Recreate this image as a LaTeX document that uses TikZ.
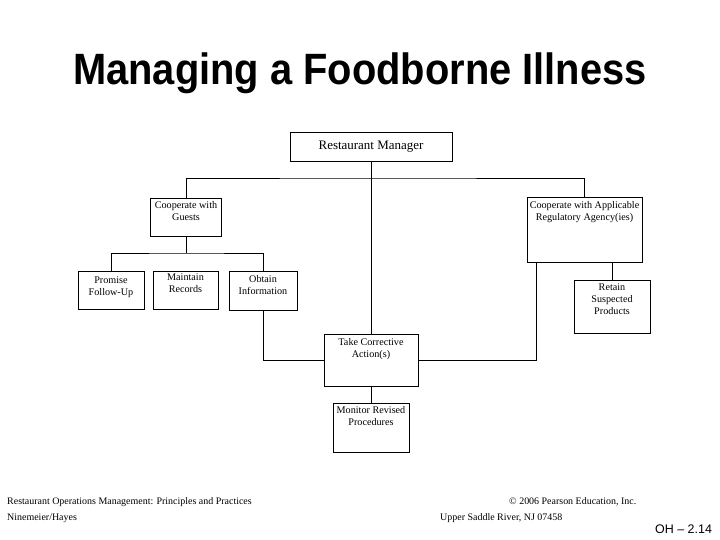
\documentclass[tikz,border=0pt]{standalone}
\usepackage{fontspec}
\setmainfont{Liberation Serif}
\newfontfamily\titlefont{Liberation Sans}
\usetikzlibrary{calc}
\begin{document}
\begin{tikzpicture}[x=1bp,y=-1bp,
  box/.style={draw=black, line width=0.8bp, rectangle, inner sep=0pt},
  boxtext/.style={anchor=north, align=center, inner sep=0pt, font=\fontsize{10.2}{12}\selectfont},
  conn/.style={draw=black, line width=0.8bp},
  foot/.style={anchor=base west, inner sep=0pt, font=\fontsize{10}{11}\selectfont}]
\useasboundingbox[fill=white] (0,0) rectangle (720,540);
% title
\node[anchor=base, inner sep=0pt, font=\titlefont\bfseries\fontsize{40}{44}\selectfont, yscale=1.1, transform shape] (title) at (360,85) {Managing a Foodborne Illness};
% boxes
\node[box, minimum width=162bp, minimum height=29bp] (m) at (371,146.5) {};
\node[inner sep=0pt, font=\fontsize{13}{15}\selectfont] (mT) at (m.center) {Restaurant Manager};
\node[box, minimum width=71bp, minimum height=38bp] (g) at (186,217) {};
\node[boxtext] (gT) at ($(g.north)+(0,4)$) {Cooperate with\\Guests};
\node[box, minimum width=115bp, minimum height=65bp] (a) at (584.5,229.5) {};
\node[boxtext] (aT) at ($(a.north)+(0,5)$) {Cooperate with Applicable\\Regulatory Agency(ies)};
\node[box, minimum width=66bp, minimum height=38bp] (pf) at (111,290) {};
\node[boxtext] (pfT) at ($(pf.north)+(0,6)$) {Promise\\Follow-Up};
\node[box, minimum width=65bp, minimum height=38bp] (mr) at (185.5,290) {};
\node[boxtext] (mrT) at ($(mr.north)+(0,3)$) {Maintain\\Records};
\node[box, minimum width=68bp, minimum height=39bp] (ob) at (263,290.5) {};
\node[boxtext] (obT) at ($(ob.north)+(0,5)$) {Obtain\\Information};
\node[box, minimum width=76bp, minimum height=53bp] (ret) at (612,306.5) {};
\node[boxtext] (retT) at ($(ret.north)+(0,4)$) {Retain\\Suspected\\Products};
\node[box, minimum width=94bp, minimum height=52bp] (take) at (371,360) {};
\node[boxtext] (takeT) at ($(take.north)+(0,5)$) {Take Corrective\\Action(s)};
\node[box, minimum width=76bp, minimum height=49bp] (mon) at (371,427.5) {};
\node[boxtext] (monT) at ($(mon.north)+(0,4)$) {Monitor Revised\\Procedures};
% connector helper coordinates
\coordinate (h1) at (371,178);
\coordinate (h2) at (186,253);
\coordinate (ar) at (536,262);
% connectors
\draw[conn] (m.south) -- (take.north);
\draw[conn] (g.north) |- (h1) -| (a.north);
\draw[conn] (g.south) -- (h2);
\draw[conn] (pf.north) |- (h2) -| (ob.north);
\draw[conn] (ob.south) |- (take.west);
\draw[conn] (take.east) -| (ar);
\draw[conn] (ret.north) -- (ret.north |- a.south);
\draw[conn] (take.south) -- (mon.north);
% footer
\node[foot] (f1) at (7,504) {Restaurant Operations Management: Principles and Practices};
\node[foot] (f2) at (7,520) {Ninemeier/Hayes};
\node[foot] (f3) at (509,504) {\symbol{"00A9} 2006 Pearson Education, Inc.};
\node[foot] (f4) at (440,520) {Upper Saddle River, NJ 07458};
\node[anchor=base west, inner sep=0pt, font=\titlefont\fontsize{12.5}{14}\selectfont] (oh) at (655,533) {OH \symbol{"2013} 2.14};
\end{tikzpicture}
\end{document}
